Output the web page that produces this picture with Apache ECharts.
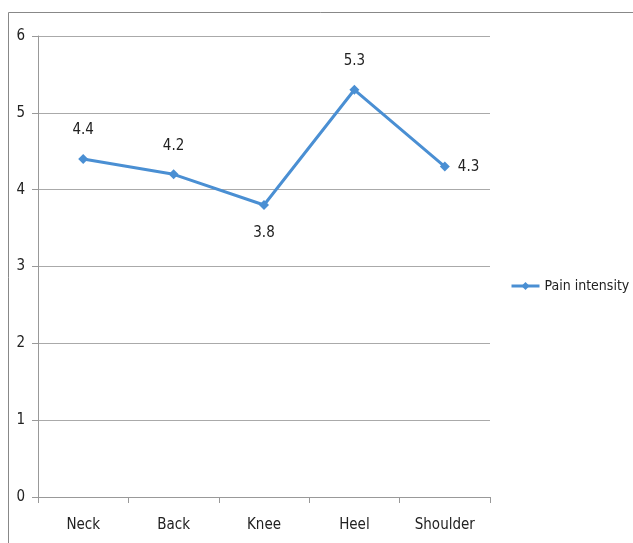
<!DOCTYPE html>
<html><head><meta charset="utf-8">
<script src="https://cdn.jsdelivr.net/npm/echarts@6/dist/echarts.min.js"></script>
<style>html,body{margin:0;padding:0;background:#fff}#c{width:633px;height:543px}</style>
</head><body><div id="c"></div>
<script>
const categories = ['Neck', 'Back', 'Knee', 'Heel', 'Shoulder'];
const painValues = [4.4, 4.2, 3.8, 5.3, 4.3];
const labelPositions = ['top', 'top', 'bottom', 'top', 'right'];
const labelDistances = [16, 16, 16, 16, 8];
const seriesName = 'Pain intensity';
const FONT = '"DejaVu Sans Condensed", "Liberation Sans Narrow", "Open Sans", sans-serif';
const chart = echarts.init(document.getElementById('c'));
chart.setOption({
  animation: false,
  graphic: [
    { type: 'line', shape: { x1: 8.5, y1: 12.5, x2: 633, y2: 12.5 }, style: { stroke: '#888', lineWidth: 1 } },
    { type: 'line', shape: { x1: 8.5, y1: 12.5, x2: 8.5, y2: 543 }, style: { stroke: '#888', lineWidth: 1 } }
  ],
  grid: { left: 38, top: 36, right: 143, bottom: 46 },
  legend: {
    data: [seriesName],
    left: 505, top: 274, itemWidth: 28, itemHeight: 10, itemGap: 2,
    lineStyle: { width: 3 },
    textStyle: { fontFamily: FONT, fontSize: 14, color: '#222' }
  },
  xAxis: {
    type: 'category', data: categories, boundaryGap: true,
    axisLine: { lineStyle: { color: '#999' } },
    axisTick: { show: true, length: 6, lineStyle: { color: '#999' } },
    axisLabel: { fontFamily: FONT, fontSize: 15, color: '#222', margin: 21 }
  },
  yAxis: {
    type: 'value', min: 0, max: 6, interval: 1,
    axisLine: { show: true, lineStyle: { color: '#999' } },
    axisTick: { show: true, length: 6, lineStyle: { color: '#999' } },
    splitLine: { lineStyle: { color: '#aaa' } },
    axisLabel: { fontFamily: FONT, fontSize: 15, color: '#222', margin: 13 }
  },
  series: [{
    name: seriesName, type: 'line',
    data: painValues.map((v, i) => ({ value: v, label: { position: labelPositions[i], distance: labelDistances[i] } })),
    symbol: 'diamond', symbolSize: 10,
    lineStyle: { color: '#4a8fd3', width: 3 },
    itemStyle: { color: '#4a8fd3' },
    label: { show: true, fontFamily: FONT, fontSize: 15, color: '#222' }
  }]
});
</script></body></html>
